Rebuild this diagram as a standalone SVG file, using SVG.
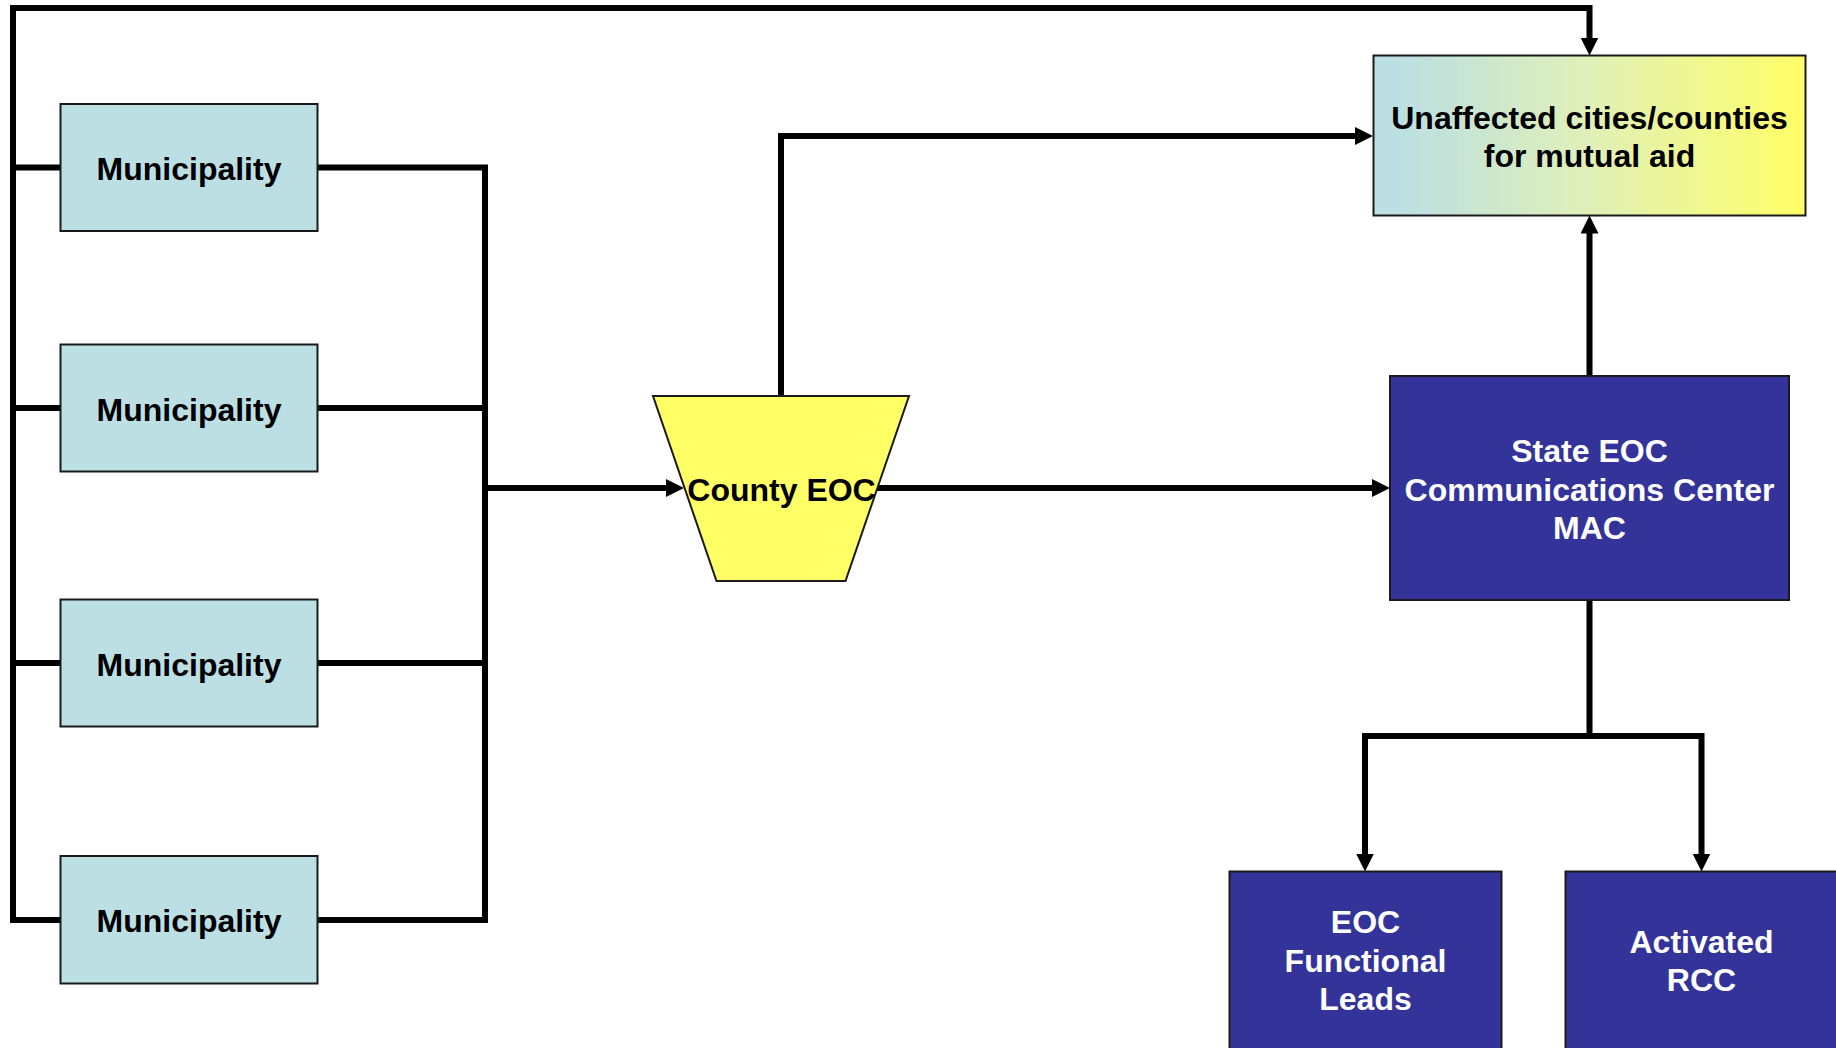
<svg xmlns="http://www.w3.org/2000/svg" width="1836" height="1048" viewBox="0 0 1836 1048">
<style>
.lbl{font-family:"Liberation Sans",Arial,sans-serif;font-weight:bold;font-size:32px;text-anchor:middle}
.dark{fill:#000}
.light{fill:#fff}
.muni{fill:#BBDFE3;stroke:#1a1a1a;stroke-width:2}
.state{fill:#333399;stroke:#1a1a1a;stroke-width:2}
.conn{fill:none;stroke:#000;stroke-width:6;stroke-linejoin:miter;stroke-linecap:butt}
</style>
<defs>
<marker id="arr" markerUnits="userSpaceOnUse" markerWidth="20" markerHeight="20" refX="8" refY="9" orient="auto">
<path d="M0,0 L18,9 L0,18 z" fill="#000"/>
</marker>
<linearGradient id="grad" x1="0" y1="0" x2="1" y2="0">
<stop offset="0.05" stop-color="#BBDFE3"/>
<stop offset="0.5" stop-color="#E0F0B8"/>
<stop offset="1" stop-color="#FFFF66"/>
</linearGradient>
</defs>
<rect width="1836" height="1048" fill="#fff"/>
<g id="connectors">
<path class="conn" d="M60.5,920 H13 V8 H1589.5 V45.5" marker-end="url(#arr)"/>
<path class="conn" d="M13,167.5 H60.5 M13,408 H60.5 M13,663 H60.5"/>
<path class="conn" d="M317.5,167.5 H485 V920 H317.5 M317.5,408 H485 M317.5,663 H485"/>
<path class="conn" d="M485,488 H674" marker-end="url(#arr)"/>
<path class="conn" d="M781,396 V136 H1363" marker-end="url(#arr)"/>
<path class="conn" d="M877,488 H1380" marker-end="url(#arr)"/>
<path class="conn" d="M1589.5,376 V225.5" marker-end="url(#arr)"/>
<path class="conn" d="M1589.5,600 V736 H1701.5 V861.5" marker-end="url(#arr)"/>
<path class="conn" d="M1592.5,736 H1365 V861.5" marker-end="url(#arr)"/>
</g>
<g id="muni1">
<rect class="muni" x="60.5" y="104" width="257" height="127"/>
<text class="lbl dark" x="189" y="180">Municipality</text>
</g>
<g id="muni2">
<rect class="muni" x="60.5" y="344.5" width="257" height="127"/>
<text class="lbl dark" x="189" y="420.5">Municipality</text>
</g>
<g id="muni3">
<rect class="muni" x="60.5" y="599.5" width="257" height="127"/>
<text class="lbl dark" x="189" y="675.5">Municipality</text>
</g>
<g id="muni4">
<rect class="muni" x="60.5" y="856" width="257" height="127.5"/>
<text class="lbl dark" x="189" y="932">Municipality</text>
</g>
<g id="county">
<polygon points="653,396 909,396 845.5,581 716.5,581" fill="#FFFF66" stroke="#1a1a1a" stroke-width="2"/>
<text class="lbl dark" x="781.5" y="500.5">County EOC</text>
</g>
<g id="unaffected">
<rect x="1373.5" y="55.5" width="432" height="160" fill="url(#grad)" stroke="#1a1a1a" stroke-width="2"/>
<text class="lbl dark" x="1589.5" y="129">Unaffected cities/counties</text>
<text class="lbl dark" x="1589.5" y="167">for mutual aid</text>
</g>
<g id="stateeoc">
<rect class="state" x="1390" y="376" width="399" height="224"/>
<text class="lbl light" x="1589.5" y="462">State EOC</text>
<text class="lbl light" x="1589.5" y="500.5">Communications Center</text>
<text class="lbl light" x="1589.5" y="539">MAC</text>
</g>
<g id="functional">
<rect class="state" x="1229.5" y="871.5" width="272" height="180"/>
<text class="lbl light" x="1365.5" y="932.5">EOC</text>
<text class="lbl light" x="1365.5" y="971.5">Functional</text>
<text class="lbl light" x="1365.5" y="1009.5">Leads</text>
</g>
<g id="rcc">
<rect class="state" x="1565.5" y="871.5" width="272" height="180"/>
<text class="lbl light" x="1701.5" y="952.5">Activated</text>
<text class="lbl light" x="1701.5" y="991">RCC</text>
</g>
</svg>
